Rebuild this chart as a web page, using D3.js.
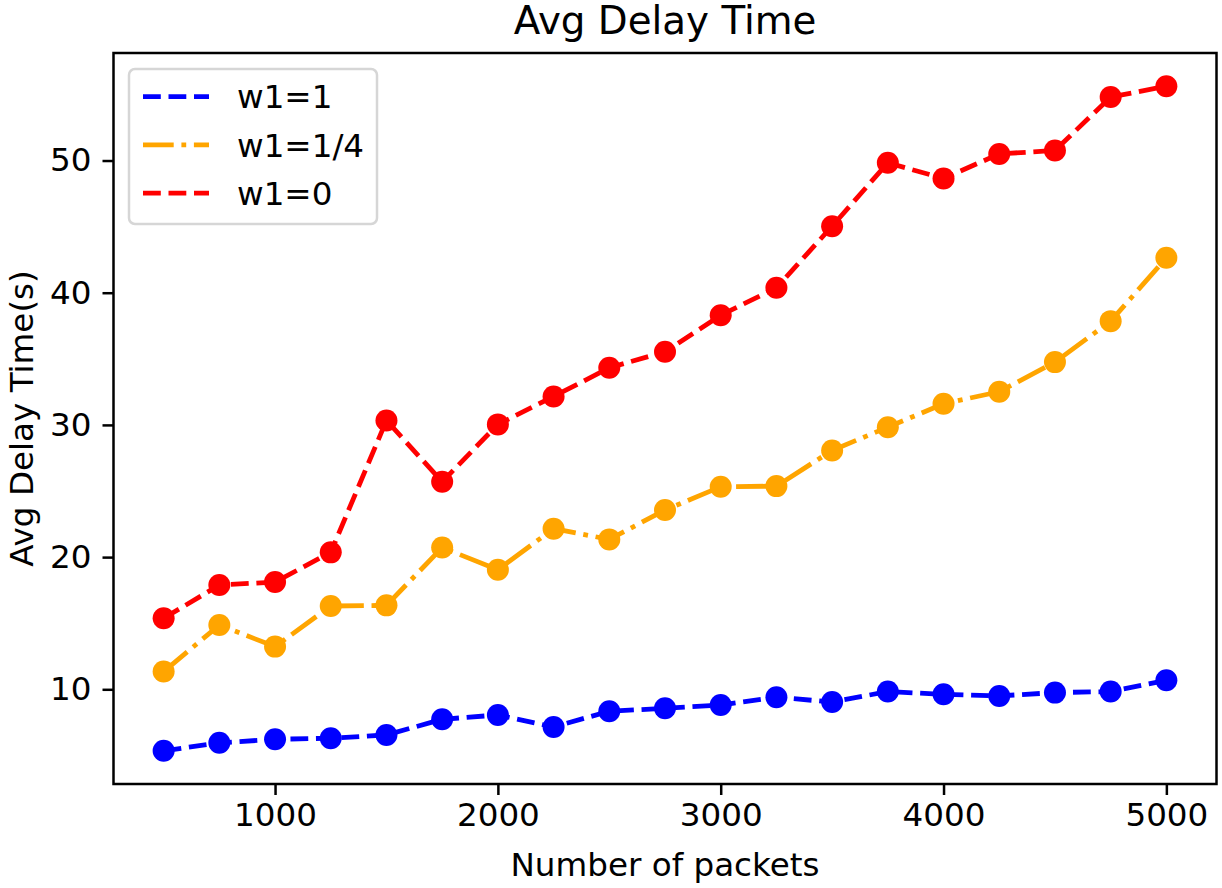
<!DOCTYPE html>
<html>
<head>
<meta charset="utf-8">
<script src="https://cdn.jsdelivr.net/npm/d3@7"></script>
<style>
  body { margin: 0; background: #fff; }
  text { font-family: "DejaVu Sans", sans-serif; fill: #000; }
</style>
</head>
<body>
<div id="chart"></div>
<script>
var packets = [500, 750, 1000, 1250, 1500, 1750, 2000, 2250, 2500, 2750, 3000,
               3250, 3500, 3750, 4000, 4250, 4500, 4750, 5000];

var w1_1 = [5.35, 5.95, 6.22, 6.3, 6.55, 7.73, 8.06, 7.15, 8.34, 8.56, 8.81,
            9.4, 9.04, 9.83, 9.62, 9.5, 9.75, 9.83, 10.68];
var w1_quarter = [11.34, 14.86, 13.23, 16.3, 16.35, 20.72, 19.05, 22.15, 21.34, 23.56, 25.32,
                  25.37, 28.07, 29.83, 31.6, 32.51, 34.75, 37.85, 42.64];
var w1_0 = [15.37, 17.89, 18.11, 20.36, 30.34, 25.7, 30.04, 32.15, 34.32, 35.53, 38.3,
            40.37, 45.03, 49.83, 48.64, 50.5, 50.76, 54.8, 55.62];

var xTicks = [1000, 2000, 3000, 4000, 5000];
var yTicks = [10, 20, 30, 40, 50];

var series = [
    {name: "w1=1",   values: w1_1,       color: "blue",   dash: "17.8,7.7"},
    {name: "w1=1/4", values: w1_quarter, color: "orange", dash: "30.7,7.7,4.8,7.7"},
    {name: "w1=0",   values: w1_0,       color: "red",    dash: "17.8,7.7"}
];

var width = 1222, height = 888;
var axLeft = 113.5, axRight = 1216.5, axTop = 53, axBottom = 784;
var fs = "32.6px";

var svg = d3.select("#chart").append("svg")
    .attr("width", width)
    .attr("height", height);

// matplotlib style 5% margins
var xExt = d3.extent(packets);
var xPad = (xExt[1] - xExt[0]) * 0.05;
var allY = d3.merge(series.map(function(s){ return s.values; }));
var yExt = d3.extent(allY);
var yPad = (yExt[1] - yExt[0]) * 0.05;

var x = d3.scaleLinear()
    .domain([xExt[0] - xPad, xExt[1] + xPad])
    .range([axLeft, axRight]);

var y = d3.scaleLinear()
    .domain([yExt[0] - yPad, yExt[1] + yPad])
    .range([axBottom, axTop]);

var line = d3.line()
    .x(function(d, i){ return x(packets[i]); })
    .y(function(d){ return y(d); });

var plot = svg.append("g");

series.forEach(function(s){
    var g = plot.append("g");
    g.append("path")
        .attr("d", line(s.values))
        .attr("fill", "none")
        .attr("stroke", s.color)
        .attr("stroke-width", 4.8)
        .attr("stroke-dasharray", s.dash)
        .attr("stroke-linecap", "butt")
        .attr("stroke-linejoin", "round");
    g.selectAll("circle")
        .data(s.values)
        .enter()
        .append("circle")
        .attr("cx", function(d, i){ return x(packets[i]); })
        .attr("cy", function(d){ return y(d); })
        .attr("r", 11)
        .attr("fill", s.color);
});

// axes
var xAxis = svg.append("g")
    .attr("transform", "translate(0," + axBottom + ")")
    .call(d3.axisBottom(x).tickValues(xTicks).tickSize(11).tickPadding(8).tickFormat(d3.format("d")));

var yAxis = svg.append("g")
    .attr("transform", "translate(" + axLeft + ",0)")
    .call(d3.axisLeft(y).tickValues(yTicks).tickSize(11).tickPadding(11).tickFormat(d3.format("d")));

[xAxis, yAxis].forEach(function(a){
    a.select(".domain").remove();
    a.selectAll(".tick line").attr("stroke", "#000").attr("stroke-width", 2.5);
    a.selectAll(".tick text")
        .style("font-family", "DejaVu Sans")
        .style("font-size", fs)
        .attr("fill", "#000");
});

// spines
svg.append("rect")
    .attr("x", axLeft)
    .attr("y", axTop)
    .attr("width", axRight - axLeft)
    .attr("height", axBottom - axTop)
    .attr("fill", "none")
    .attr("stroke", "#000")
    .attr("stroke-width", 2.5);

// title and labels
svg.append("text")
    .attr("x", (axLeft + axRight) / 2)
    .attr("y", 34)
    .attr("text-anchor", "middle")
    .style("font-size", "38.8px")
    .text("Avg Delay Time");

svg.append("text")
    .attr("x", (axLeft + axRight) / 2)
    .attr("y", 876)
    .attr("text-anchor", "middle")
    .style("font-size", fs)
    .text("Number of packets");

svg.append("text")
    .attr("transform", "translate(33," + ((axTop + axBottom) / 2) + ") rotate(-90)")
    .attr("text-anchor", "middle")
    .style("font-size", fs)
    .text("Avg Delay Time(s)");

// legend
var legend = svg.append("g").attr("transform", "translate(129,69)");

legend.append("rect")
    .attr("width", 248)
    .attr("height", 155)
    .attr("rx", 6)
    .attr("fill", "#fff")
    .attr("fill-opacity", 0.8)
    .attr("stroke", "#d6d6d6")
    .attr("stroke-width", 2.5);

var item = legend.selectAll(".item")
    .data(series)
    .enter()
    .append("g")
    .attr("transform", function(d, i){ return "translate(0," + (27.7 + i * 48.2) + ")"; });

item.append("line")
    .attr("x1", 14)
    .attr("x2", 80)
    .attr("stroke", function(d){ return d.color; })
    .attr("stroke-width", 4.8)
    .attr("stroke-dasharray", function(d){ return d.dash; });

item.append("text")
    .attr("x", 108)
    .attr("dy", "0.36em")
    .style("font-size", fs)
    .text(function(d){ return d.name; });
</script>
</body>
</html>
